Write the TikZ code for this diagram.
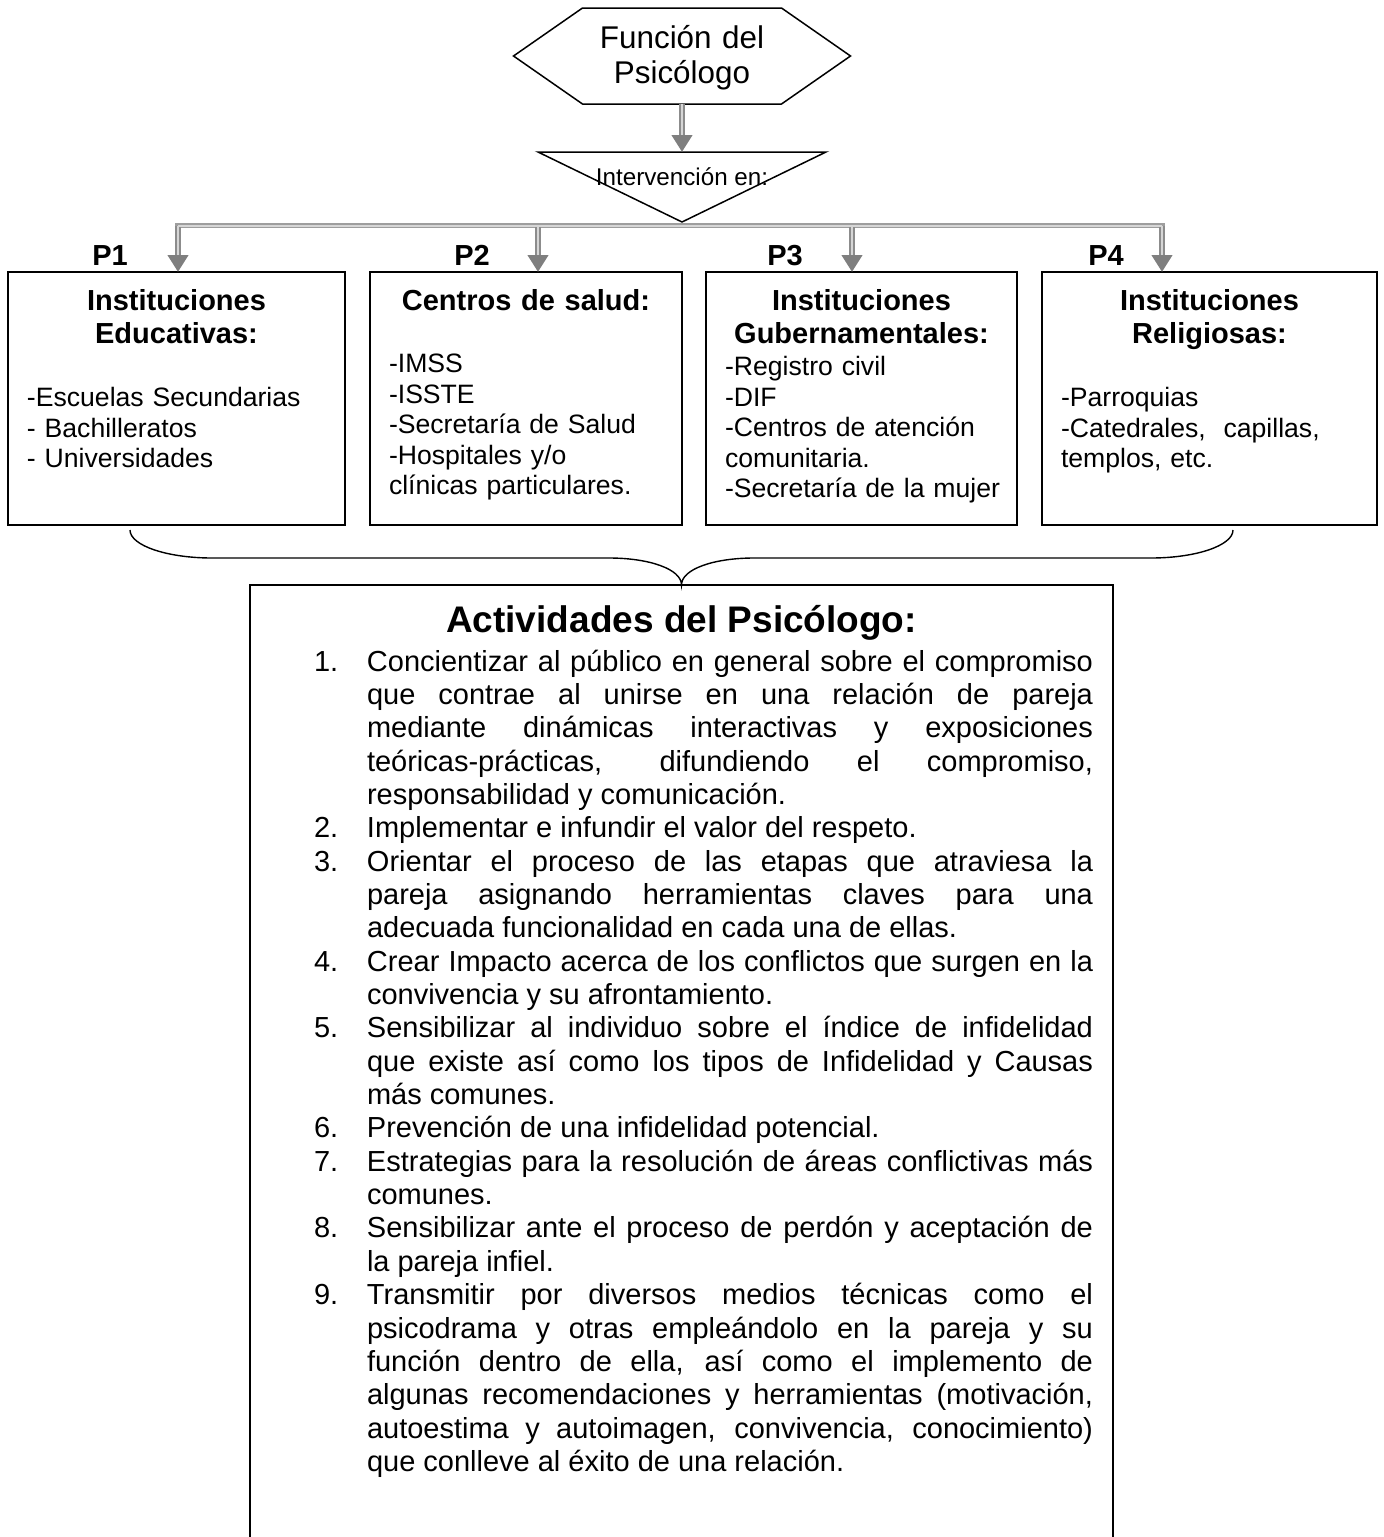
\documentclass[tikz,border=0pt]{standalone}
\usepackage{fontspec}
\setmainfont{Liberation Sans}
\usetikzlibrary{arrows.meta,calc}
\definecolor{shaftgray}{HTML}{8C8C8C}
\definecolor{headgray}{HTML}{7F7F7F}
\definecolor{innergray}{HTML}{D6D6D6}
\definecolor{bargray}{HTML}{9E9E9E}
\newcommand\fntBody{\fontsize{29}{33.35}\selectfont}
\newcommand\fntItem{\fontsize{26.6}{30.6}\selectfont}
\newcommand\fntHead{\fontsize{29}{33.35}\selectfont\bfseries}
\newcommand\fntHex{\fontsize{31.4}{35.5}\selectfont}
\newcommand\fntTitle{\fontsize{37}{42}\selectfont\bfseries}
\newcommand\fntTri{\fontsize{24.2}{28}\selectfont}
\newcommand\myitem[1]{\noindent\hangindent=53pt\hangafter=1\makebox[53pt][l]{#1}}
\begin{document}
\begin{tikzpicture}[x=1pt,y=-1pt,
  every node/.style={inner sep=0pt, outer sep=0pt},
  boxnode/.style={draw, line width=1.8pt, minimum height=253pt, anchor=north},
  headtxt/.style={font=\fntHead, align=center, text width=300pt, anchor=base},
  itemtxt/.style={font=\fntItem, align=left, text width=300pt, anchor=base west},
  plabel/.style={font=\fntHead, anchor=base},
  garrow/.style={draw=shaftgray, line width=6pt, -{Triangle[width=20pt,length=17pt,color=headgray]}},
  ginner/.style={draw=innergray, line width=2pt, shorten >=17pt},
  gbar/.style={draw=bargray, line width=5.5pt, line cap=rect},
  gbarin/.style={draw=innergray, line width=2pt},
  outline/.style={line width=1.5pt, line join=miter},
]
\useasboundingbox (0,0) rectangle (1384,1537);
\clip (0,0) rectangle (1384,1537);

% hexagon
\node[minimum width=337pt, minimum height=96pt, font=\fntHex, align=center,
      text width=260pt, text height=20pt, text depth=36pt] (hex) at (682,56) {Función del\\Psicólogo};
\draw[outline] (hex.west) -- ([xshift=69pt]hex.north west) -- ([xshift=-69pt]hex.north east)
  -- (hex.east) -- ([xshift=-69pt]hex.south east) -- ([xshift=69pt]hex.south west) -- cycle;

% triangle
\node[minimum width=288pt, minimum height=70pt, font=\fntTri,
      text height=10pt, text depth=14pt] (tri) at (682,187) {Intervención en:};
\draw[outline] (tri.north west) -- (tri.north east) -- (tri.south) -- cycle;

\draw[garrow] (hex.south) -- (tri.north);
\draw[ginner] (hex.south) -- (tri.north);

% boxes
\node[boxnode, minimum width=337pt] (p1) at (176.5,272) {};
\node[boxnode, minimum width=312pt] (p2) at (526,272) {};
\node[boxnode, minimum width=311pt] (p3) at (861.5,272) {};
\node[boxnode, minimum width=335pt] (p4) at (1209.5,272) {};

% bar and arrows
\coordinate (b1) at (178,225.5);
\coordinate (b2) at (538,225.5);
\coordinate (b3) at (852,225.5);
\coordinate (b4) at (1162,225.5);
\draw[gbar] (b1) -- (b4);
\foreach \b/\p in {b1/p1,b2/p2,b3/p3,b4/p4}{
  \draw[garrow] (\b) -- (\p.north -| \b);
}
\draw[gbarin] (b1) -- (b4);
\foreach \b/\p in {b1/p1,b2/p2,b3/p3,b4/p4}{
  \draw[ginner] (\b) -- (\p.north -| \b);
}

% labels
\node[plabel] (l1) at (110,265) {P1};
\node[plabel] (l2) at (472,265) {P2};
\node[plabel] (l3) at (785,265) {P3};
\node[plabel] (l4) at (1106,265) {P4};

% headings
\node[headtxt] (h1) at (176.5,310) {Instituciones\\Educativas:};
\node[headtxt] (h2) at (526,310) {Centros de salud:};
\node[headtxt] (h3) at (861.5,310) {Instituciones\\Gubernamentales:};
\node[headtxt] (h4) at (1209.5,310) {Instituciones\\Religiosas:};

% items
\node[itemtxt] (i1) at (27,406.5) {-Escuelas Secundarias\\- Bachilleratos\\- Universidades};
\node[itemtxt] (i2) at (389,372.5) {-IMSS\\-ISSTE\\-Secretaría de Salud\\-Hospitales y/o\\clínicas particulares.};
\node[itemtxt] (i3) at (725,375.5) {-Registro civil\\-DIF\\-Centros de atención\\comunitaria.\\-Secretaría de la mujer};
\node[itemtxt] (i4) at (1061,406.5) {-Parroquias\\-Catedrales,\ \ capillas,\\templos, etc.};

% brace
\draw[line width=1.4pt] (130,530) .. controls (130,545.5) and (167,558) .. (212,558)
  -- (609,558) .. controls (649,558) and (681.5,569) .. (681.5,585)
  .. controls (681.5,569) and (714,558) .. (754,558)
  -- (1151,558) .. controls (1196,558) and (1233,545.5) .. (1233,530);

% activities box
\node[draw, line width=1.8pt, minimum width=863pt, minimum height=1000pt, anchor=north] (act) at (681.5,585) {};
\node[font=\fntTitle, anchor=base] (ttl) at (681.5,632) {Actividades del Psicólogo:};
\node[font=\fntBody, text width=779pt, align=justify, anchor=base west] (lst) at (314,671) {%
\tolerance=10000\hbadness=10000\hyphenpenalty=10000\exhyphenpenalty=10000%
\myitem{1.}Concientizar al público en general sobre el compromiso\linebreak que contrae al unirse en una relación de pareja\linebreak mediante dinámicas interactivas y exposiciones\linebreak teóricas-prácticas, difundiendo el compromiso,\linebreak responsabilidad y comunicación.\par
\myitem{2.}Implementar e infundir el valor del respeto.\par
\myitem{3.}Orientar el proceso de las etapas que atraviesa la\linebreak pareja asignando herramientas claves para una\linebreak adecuada funcionalidad en cada una de ellas.\par
\myitem{4.}Crear Impacto acerca de los conflictos que surgen en la\linebreak convivencia y su afrontamiento.\par
\myitem{5.}Sensibilizar al individuo sobre el índice de infidelidad\linebreak que existe así como los tipos de Infidelidad y Causas\linebreak más comunes.\par
\myitem{6.}Prevención de una infidelidad potencial.\par
\myitem{7.}Estrategias para la resolución de áreas conflictivas más\linebreak comunes.\par
\myitem{8.}Sensibilizar ante el proceso de perdón y aceptación de\linebreak la pareja infiel.\par
\myitem{9.}Transmitir por diversos medios técnicas como el\linebreak psicodrama y otras empleándolo en la pareja y su\linebreak función dentro de ella, así como el implemento de\linebreak algunas recomendaciones y herramientas (motivación,\linebreak autoestima y autoimagen, convivencia, conocimiento)\linebreak que conlleve al éxito de una relación.\par};
\end{tikzpicture}
\end{document}
